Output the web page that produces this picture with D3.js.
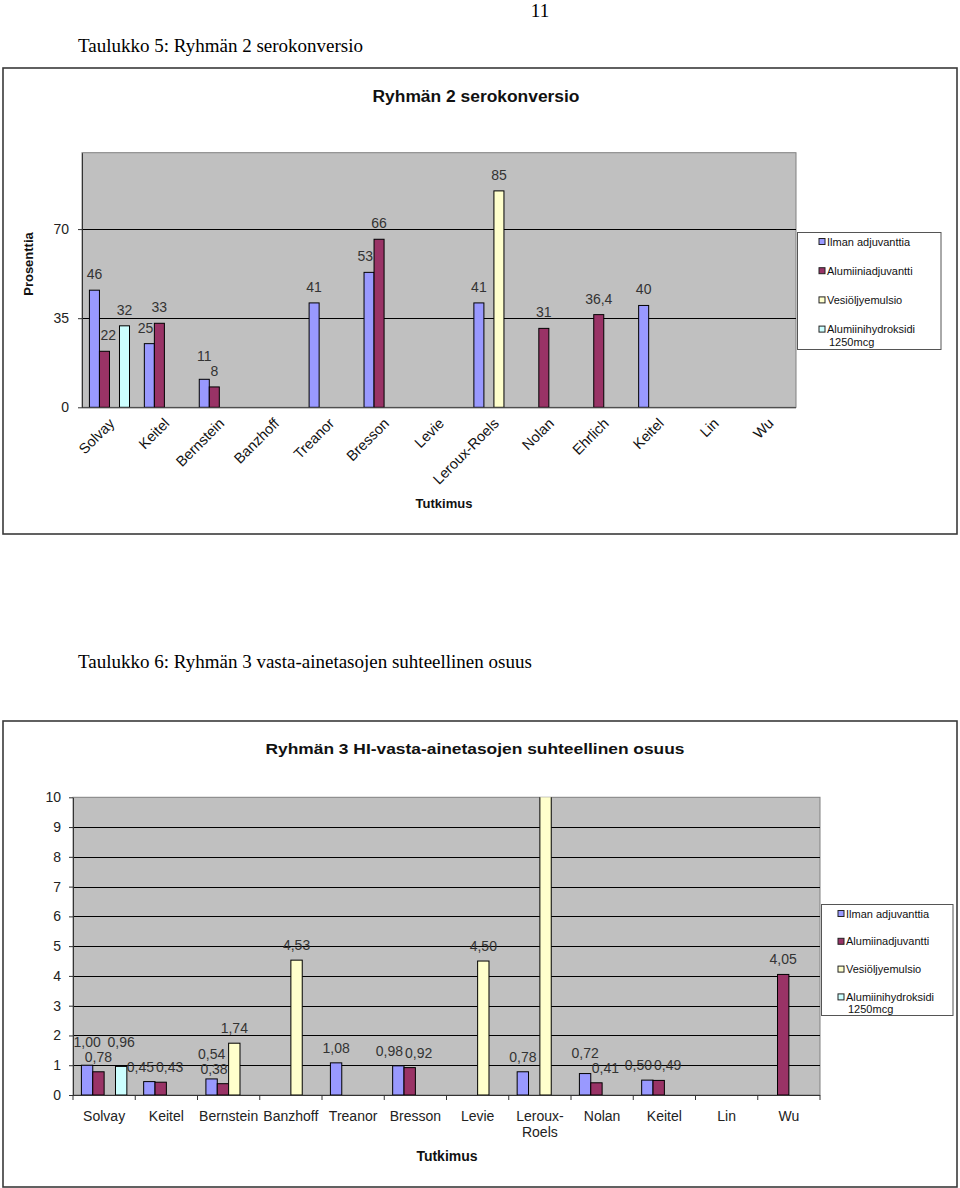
<!DOCTYPE html>
<html><head><meta charset="utf-8">
<script src="https://cdn.jsdelivr.net/npm/d3@7"></script>
<style>
html,body{margin:0;padding:0;background:#fff;}
svg{display:block;}
</style></head>
<body>
<script>
// ---- Chart 1 data (Ryhmän 2 serokonversio) ----
const cats1 = ["Solvay","Keitel","Bernstein","Banzhoff","Treanor","Bresson","Levie","Leroux-Roels","Nolan","Ehrlich","Keitel","Lin","Wu"];
const ilman1 = [46, 25, 11, null, 41, 53, null, 41, null, null, 40, null, null];
const alum1  = [22, 33, 8, null, null, 66, null, null, 31, 36.4, null, null, null];
const vesi1  = [null, null, null, null, null, null, null, 85, null, null, null, null, null];
const hydro1 = [32, null, null, null, null, null, null, null, null, null, null, null, null];
const ticks1 = [0, 35, 70];
const legend1 = ["Ilman adjuvanttia","Alumiiniadjuvantti","Vesiöljyemulsio","Alumiinihydroksidi|1250mcg"];

// ---- Chart 2 data (Ryhmän 3 HI-vasta-ainetasojen suhteellinen osuus) ----
const cats2 = ["Solvay","Keitel","Bernstein","Banzhoff","Treanor","Bresson","Levie","Leroux-Roels","Nolan","Keitel","Lin","Wu"];
const ilman2 = [1.00, 0.45, 0.54, null, 1.08, 0.98, null, 0.78, 0.72, 0.50, null, null];
const alum2  = [0.78, 0.43, 0.38, null, null, 0.92, null, null, 0.41, 0.49, null, 4.05];
const vesi2  = [null, null, 1.74, 4.53, null, null, 4.50, 10.5, null, null, null, null];
const hydro2 = [0.96, null, null, null, null, null, null, null, null, null, null, null];
const ticks2 = [0,1,2,3,4,5,6,7,8,9,10];
const legend2 = ["Ilman adjuvanttia","Alumiinadjuvantti","Vesiöljyemulsio","Alumiinihydroksidi|1250mcg"];

const colors = ["#9999FF","#993366","#FFFFCC","#CCFFFF"];
const FONT = "'Liberation Sans', Arial, sans-serif";
const SERIF = "'Liberation Serif', 'Times New Roman', serif";

const svg = d3.select("body").append("svg").attr("width",960).attr("height",1188)
  .style("font-family", FONT);

// page text
svg.append("text").attr("x",540).attr("y",17).attr("text-anchor","middle")
  .style("font-family",SERIF).style("font-size","19px").text("11");
svg.append("text").attr("x",78).attr("y",52)
  .style("font-family",SERIF).style("font-size","19px").text("Taulukko 5: Ryhmän 2 serokonversio");
svg.append("text").attr("x",78).attr("y",668)
  .style("font-family",SERIF).style("font-size","19px").text("Taulukko 6: Ryhmän 3 vasta-ainetasojen suhteellinen osuus");

function fmt(v, dec){ return (dec===0 ? String(v) : v.toFixed(dec)).replace(".", ","); }

function drawChart(cfg){
  const g = svg.append("g");
  g.append("rect").attr("x",cfg.frame[0]).attr("y",cfg.frame[1]).attr("width",cfg.frame[2]).attr("height",cfg.frame[3])
    .attr("fill","#fff").attr("stroke","#3a3a3a").attr("stroke-width",1.6);
  g.append("text").attr("x",cfg.titleX).attr("y",cfg.titleY).attr("text-anchor","middle")
    .style("font-weight","bold").style("font-size",cfg.titleSize+"px")
    .attr("textLength",cfg.titleLen).attr("lengthAdjust","spacingAndGlyphs")
    .attr("fill","#111").text(cfg.title);

  const [L,R,T,B] = cfg.plot;
  const x = d3.scaleBand().domain(d3.range(cfg.cats.length)).range([L,R]).paddingInner(0).paddingOuter(0);
  const xs = d3.scaleBand().domain([0,1,2,3]).range([0,x.bandwidth()]).paddingInner(0).paddingOuter(0.74);
  const y = d3.scaleLinear().domain([0,cfg.max]).range([B,T]);

  g.append("rect").attr("x",L).attr("y",T).attr("width",R-L).attr("height",B-T)
    .attr("fill","#C0C0C0").attr("stroke","#808080").attr("stroke-width",1);
  g.append("g").selectAll("line").data(cfg.ticks.filter(t=>t>0 && t<cfg.max)).join("line")
    .attr("x1",L).attr("x2",R).attr("y1",d=>Math.round(y(d))+0.5).attr("y2",d=>Math.round(y(d))+0.5)
    .attr("stroke","#000").attr("stroke-width",1);

  const ya = g.append("g").attr("transform",`translate(${L},0)`)
    .call(d3.axisLeft(y).tickValues(cfg.ticks).tickSize(4).tickSizeOuter(0).tickPadding(cfg.yPad).tickFormat(d=>String(d)));
  ya.select(".domain").attr("stroke","#333");
  ya.selectAll(".tick line").attr("stroke","#333");
  ya.selectAll("text").style("font-size","14px").attr("fill","#222").style("font-family",FONT);

  g.append("line").attr("x1",L).attr("x2",R).attr("y1",B+0.5).attr("y2",B+0.5).attr("stroke","#333");
  if(cfg.xTicks){
    g.append("g").selectAll("line").data(d3.range(cfg.cats.length+1)).join("line")
      .attr("x1",i=> i<cfg.cats.length ? x(i) : R).attr("x2",i=> i<cfg.cats.length ? x(i) : R)
      .attr("y1",B).attr("y2",B+5).attr("stroke","#333");
  }

  const cid = "clip"+cfg.id;
  g.append("clipPath").attr("id",cid).append("rect").attr("x",L).attr("y",T).attr("width",R-L).attr("height",B-T);

  const bars = [];
  cfg.series.forEach((arr,si)=>arr.forEach((v,ci)=>{ if(v!=null) bars.push({si,ci,v}); }));
  bars.forEach(b=>{ b.x0 = x(b.ci)+xs(b.si); b.x1 = b.x0+xs.bandwidth(); b.top = y(Math.min(b.v,cfg.max)); });
  g.append("g").attr("clip-path",`url(#${cid})`).selectAll("rect").data(bars).join("rect")
    .attr("x",d=>d.x0).attr("width",xs.bandwidth())
    .attr("y",d=>y(d.v)).attr("height",d=>B-y(d.v))
    .attr("fill",d=>colors[d.si]).attr("stroke","#000").attr("stroke-width",1);

  // data labels with simple collision avoidance
  const lab = g.append("g").selectAll("text").data(bars.filter(d=>d.v<=cfg.max)).join("text")
    .attr("text-anchor","middle").style("font-size","14px").attr("fill","#333")
    .text(d=>fmt(d.v,cfg.dec));
  const labs = [];
  lab.each(function(d){
    labs.push({d, el:this, w:this.getComputedTextLength(), cx:(d.x0+d.x1)/2, bl:d.top-cfg.labelOff});
  });
  const H = 15;
  labs.forEach(l=>{
    bars.forEach(b=>{
      if(b===l.d) return;
      const lx0=l.cx-l.w/2, lx1=l.cx+l.w/2;
      if(b.top < l.bl+1 && b.x1 > lx0 && b.x0 < lx1){
        if((b.x0+b.x1)/2 < l.cx) l.cx = b.x1+1+l.w/2; else l.cx = b.x0-1-l.w/2;
      }
    });
  });
  for(let it=0; it<40; it++){
    let moved=false;
    for(let i=0;i<labs.length;i++) for(let j=i+1;j<labs.length;j++){
      const a=labs[i], b=labs[j];
      const dy = Math.abs(a.bl-b.bl);
      if(dy >= H - 0.01) continue;
      const need = (a.w+b.w)/2 + 2;
      const dx = b.cx - a.cx;
      if(Math.abs(dx) >= need - 0.01) continue;
      moved=true;
      if(dy >= 4){
        const hi = a.bl < b.bl ? a : b, lo = hi===a ? b : a;
        hi.bl = lo.bl - H;
      } else {
        const s = (need-Math.abs(dx))/2, dir = dx>=0?1:-1;
        a.cx -= dir*s; b.cx += dir*s;
      }
    }
    if(!moved) break;
  }
  labs.forEach(l=>d3.select(l.el).attr("x",l.cx).attr("y",l.bl));

  if(cfg.rotate){
    g.append("g").selectAll("text").data(cfg.cats).join("text")
      .attr("transform",(d,i)=>`translate(${x(i)+x.bandwidth()/2+6},${B+17}) rotate(-45)`)
      .attr("text-anchor","end").style("font-size","14.5px").attr("fill","#111").text(d=>d);
  } else {
    const t = g.append("g").selectAll("text").data(cfg.cats).join("text")
      .attr("x",(d,i)=>x(i)+x.bandwidth()/2).attr("y",B+26)
      .attr("text-anchor","middle").style("font-size","14px").attr("fill","#222");
    t.each(function(d,i){
      const parts = d.length>10 && d.includes("-") ? [d.split("-")[0]+"-", d.split("-")[1]] : [d];
      const el = d3.select(this);
      parts.forEach((p,k)=>el.append("tspan").attr("x",x(i)+x.bandwidth()/2).attr("dy",k===0?0:16).text(p));
    });
  }

  g.append("text").attr("x",cfg.xTitle[0]).attr("y",cfg.xTitle[1]).attr("text-anchor","middle")
    .style("font-weight","bold").style("font-size",cfg.xTitleSize+"px").attr("fill","#111").text("Tutkimus");
  if(cfg.yTitle){
    g.append("text").attr("transform",`translate(${cfg.yTitle[0]},${cfg.yTitle[1]}) rotate(-90)`)
      .attr("text-anchor","middle").style("font-weight","bold").style("font-size","13px").attr("fill","#111").text("Prosenttia");
  }

  const [lx,ly,lw,lh] = cfg.legBox;
  g.append("rect").attr("x",lx).attr("y",ly).attr("width",lw).attr("height",lh)
    .attr("fill","#fff").attr("stroke","#555").attr("stroke-width",1);
  cfg.legend.forEach((name,i)=>{
    const cy = cfg.legY0 + i*cfg.legStep;
    g.append("rect").attr("x",cfg.legMarkX).attr("y",cy-3).attr("width",6).attr("height",6)
      .attr("fill",colors[i]).attr("stroke","#222").attr("stroke-width",1);
    name.split("|").forEach((ln,k)=>{
      g.append("text").attr("x",cfg.legMarkX+(k===0?8:10)).attr("y",cy+4+k*12.5)
        .style("font-size","11px").attr("fill","#111").text(ln);
    });
  });
}

drawChart({
  id:1, frame:[3,68,954,466],
  title:"Ryhmän 2 serokonversio", titleX:476, titleY:102, titleSize:16, titleLen:207,
  plot:[82,796,152.7,407.3], max:100, ticks:ticks1, yPad:9,
  cats:cats1, series:[ilman1,alum1,vesi1,hydro1], dec:0, labelOff:11,
  rotate:true, xTicks:false,
  xTitle:[444,508], xTitleSize:13, yTitle:[33,264],
  legend:legend1, legBox:[797.5,232.5,143.5,117], legY0:241.5, legStep:29.2, legMarkX:819
});

drawChart({
  id:2, frame:[3,721,954,466],
  title:"Ryhmän 3 HI-vasta-ainetasojen suhteellinen osuus", titleX:475, titleY:754, titleSize:15, titleLen:419,
  plot:[73,820,797.3,1095], max:10, ticks:ticks2, yPad:8,
  cats:cats2, series:[ilman2,alum2,vesi2,hydro2], dec:2, labelOff:10,
  rotate:false, xTicks:true,
  xTitle:[447,1161], xTitleSize:14, yTitle:null,
  legend:legend2, legBox:[821.5,904.5,131.5,111], legY0:913.5, legStep:27.8, legMarkX:838
});
</script>
</body></html>
